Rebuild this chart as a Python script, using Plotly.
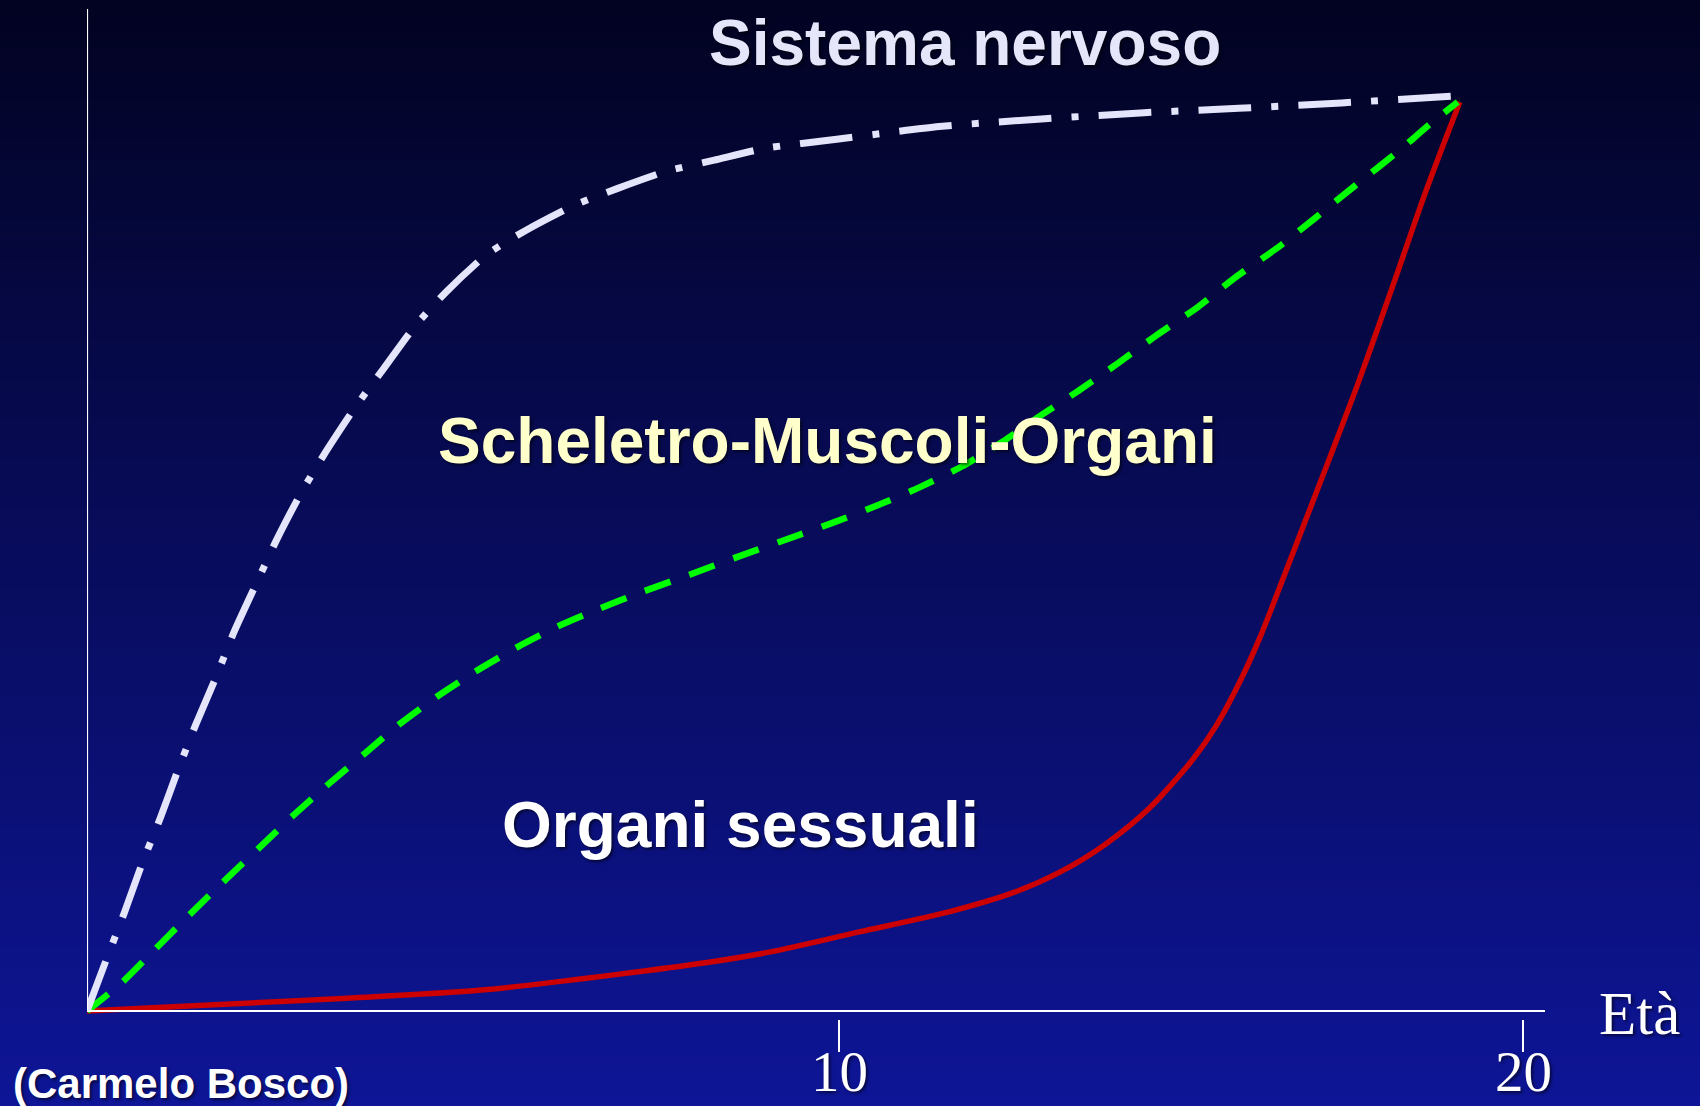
import plotly.graph_objects as go

# Age (years) and relative development (% of adult value) for each organ system
age_nervoso = [-1.00, -0.71, -0.45, -0.19, 0.07, 0.33, 0.59, 0.89, 1.15, 1.48, 1.77, 2.13,
               2.49, 2.91, 3.34, 3.79, 4.25, 4.84, 5.42, 6.11, 6.76, 7.48, 8.17, 8.91,
               9.96, 11.46, 12.90, 14.40, 15.84, 17.34, 19.07]
val_nervoso = [0.0, 5.8, 10.9, 16.3, 21.2, 26.5, 31.5, 36.8, 41.7, 47.1, 51.8, 57.0,
               61.5, 66.3, 70.7, 75.3, 79.1, 83.2, 85.9, 88.6, 90.5, 92.4, 93.6, 94.9,
               95.9, 97.3, 98.1, 98.8, 99.3, 99.9, 100.7]

age_scheletro = [-1.00, -0.48, 0.01, 0.50, 0.99, 1.51, 2.00, 2.49, 3.04, 3.56, 4.12, 4.67,
                 5.26, 5.88, 6.50, 7.15, 7.81, 8.49, 9.12, 9.90, 10.55, 11.17, 11.79,
                 12.38, 12.90, 13.49, 14.08, 14.63, 15.25, 15.77, 16.43, 16.95, 17.54,
                 18.19, 18.64, 19.04]
val_scheletro = [0.0, 3.2, 6.9, 10.6, 14.2, 17.9, 21.4, 24.7, 28.2, 31.5, 34.6, 37.3,
                 39.9, 42.3, 44.3, 46.2, 48.0, 49.9, 51.6, 53.7, 55.6, 57.6, 59.9,
                 62.6, 65.3, 68.2, 71.3, 74.3, 77.5, 80.6, 84.1, 87.2, 90.8,
                 94.7, 97.6, 100.0]

age_sessuali = [-1.00, 0.86, 2.81, 4.77, 6.73, 8.04, 8.99, 10.29, 11.60, 12.57, 13.23,
                13.88, 14.53, 15.18, 15.51, 15.84, 16.16, 16.59, 17.14, 17.60, 18.12,
                18.58, 19.07]
val_sessuali = [0.0, 0.7, 1.4, 2.3, 4.0, 5.3, 6.5, 8.7, 10.9, 13.1, 15.3,
                18.3, 22.3, 27.8, 31.4, 36.0, 41.3, 49.6, 60.3, 69.4, 80.4,
                90.3, 100.0]

tick_values = [10, 20]
tick_labels = ["10", "20"]

X_RANGE = [-1.0, 20.316]
Y_RANGE = [-0.88, 110.23]

W, H = 1700, 1106
M_L, M_R, M_T, M_B = 87, 155, 9, 87

fig = go.Figure()

# Vertical gradient background: dark navy at the top to royal blue at the bottom
top_rgb = (2, 3, 34)
bot_rgb = (14, 21, 150)
n_bands = 111
plot_w = W - M_L - M_R
plot_h = H - M_T - M_B
shapes = []
for i in range(n_bands):
    t = i / (n_bands - 1)
    r, g, b = (round(top_rgb[k] + (bot_rgb[k] - top_rgb[k]) * t) for k in range(3))
    py0 = i * H / n_bands
    py1 = (i + 1) * H / n_bands + 0.6
    shapes.append(dict(
        type="rect", xref="paper", yref="paper", layer="below",
        x0=-M_L / plot_w - 0.01, x1=(W - M_L) / plot_w + 0.01,
        y0=(H - M_B - py1) / plot_h, y1=(H - M_B - py0) / plot_h,
        fillcolor=f"rgb({r},{g},{b})", line=dict(width=0),
    ))

# Axis lines
shapes.append(dict(type="line", xref="x", yref="y", x0=X_RANGE[0], x1=X_RANGE[1],
                   y0=0, y1=0, line=dict(color="white", width=2.2), layer="above"))
shapes.append(dict(type="line", xref="x", yref="y", x0=X_RANGE[0], x1=X_RANGE[0],
                   y0=0, y1=Y_RANGE[1], line=dict(color="white", width=2.2), layer="above"))

fig.add_trace(go.Scatter(
    x=age_sessuali, y=val_sessuali, mode="lines", name="Organi sessuali",
    line=dict(color="#CC0000", width=5.5, shape="spline", smoothing=0.8),
))
fig.add_trace(go.Scatter(
    x=age_scheletro, y=val_scheletro, mode="lines", name="Scheletro-Muscoli-Organi",
    line=dict(color="#00FF00", width=6.5, dash="27px,20px", shape="spline", smoothing=0.6),
))
fig.add_trace(go.Scatter(
    x=age_nervoso, y=val_nervoso, mode="lines", name="Sistema nervoso",
    line=dict(color="#E4E4FA", width=7, dash="53px,20px,7px,20px", shape="spline", smoothing=0.6),
))

label_font = "Liberation Sans, Arial, sans-serif"
shadow = "2px 2px 3px rgba(0,0,0,0.55)"

annotations = [
    dict(text="<b>Sistema nervoso</b>", x=11.84, y=106.5, xref="x", yref="y",
         showarrow=False, xanchor="center", yanchor="middle",
         font=dict(family=label_font, size=64, color="#E6E6FA", shadow=shadow)),
    dict(text="<b>Scheletro-Muscoli-Organi</b>", x=9.82, y=62.7, xref="x", yref="y",
         showarrow=False, xanchor="center", yanchor="middle",
         font=dict(family=label_font, size=64, color="#FFFFCC", shadow=shadow)),
    dict(text="<b>Organi sessuali</b>", x=8.55, y=20.46, xref="x", yref="y",
         showarrow=False, xanchor="center", yanchor="middle",
         font=dict(family=label_font, size=64, color="#FFFFFF", shadow=shadow)),
    dict(text="<b>(Carmelo Bosco)</b>", x=(11 - M_L) / plot_w, y=(H - M_B - 1083) / plot_h,
         xref="paper", yref="paper", showarrow=False, xanchor="left", yanchor="middle",
         font=dict(family=label_font, size=42, color="#FFFFFF", shadow=shadow)),
    dict(text="Età", x=(1639 - M_L) / plot_w, y=(H - M_B - 1013) / plot_h,
         xref="paper", yref="paper", showarrow=False, xanchor="center", yanchor="middle",
         font=dict(family="Liberation Serif, Times New Roman, serif", size=61,
                   color="#FFFFFF", shadow=shadow)),
]

fig.update_layout(
    width=W, height=H,
    margin=dict(l=M_L, r=M_R, t=M_T, b=M_B, pad=0, autoexpand=False),
    paper_bgcolor="rgb(14,21,150)",
    plot_bgcolor="rgba(0,0,0,0)",
    showlegend=False,
    shapes=shapes,
    annotations=annotations,
    xaxis=dict(
        range=X_RANGE, showgrid=False, zeroline=False, showline=False,
        automargin=False,
        ticks="outside", ticklen=32, tickwidth=1.5, tickcolor="white",
        tickvals=tick_values, ticktext=tick_labels, ticklabelstandoff=-29,
        tickfont=dict(family="Liberation Serif, Times New Roman, serif", size=57,
                      color="white", shadow=shadow),
        fixedrange=True,
    ),
    yaxis=dict(
        range=Y_RANGE, showgrid=False, zeroline=False, showline=False,
        automargin=False,
        showticklabels=False, ticks="", fixedrange=True,
    ),
)

fig.write_html("out.html")
